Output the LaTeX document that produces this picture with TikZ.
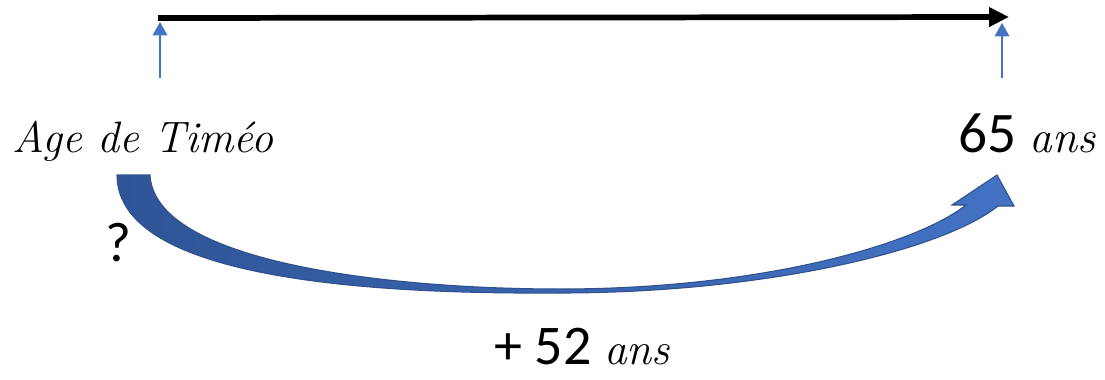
\documentclass[tikz,border=0pt]{standalone}
\usepackage{fontspec}
\newfontfamily\numfont{Carlito}
\usetikzlibrary{arrows.meta}
\definecolor{tailblue}{HTML}{2F5597}
\definecolor{headblue}{HTML}{4472C4}
\definecolor{edgeblue}{HTML}{2F528F}
\tikzset{
  lbl/.style={inner sep=0pt, anchor=base, text=black},
  axisarrow/.style={line width=4.3pt, -{Triangle[length=15pt,width=14pt]}},
  pointer/.style={draw=headblue, line width=1pt, -{Triangle[length=10pt,width=11pt]}},
}
\begin{document}
\begin{tikzpicture}[x=0.75pt,y=-0.75pt]
\useasboundingbox (0,0) rectangle (1105,379);
% axis
\coordinate (axL) at (158,18);
\coordinate (axR) at (1009,17);
\draw[axisarrow] (axL) -- (axR);
% pointers
\coordinate (pL0) at (160,78);
\coordinate (pL1) at (160,22);
\coordinate (pR0) at (1002,78);
\coordinate (pR1) at (1002,23);
\draw[pointer] (pL0) -- (pL1);
\draw[pointer] (pR0) -- (pR1);
% labels
\node[lbl] (age) at (143,152) {\fontsize{33}{38}\selectfont\itshape Age de Timéo};
\node[lbl] (sf) at (1027,152) {\fontsize{43}{48}\selectfont\numfont 65 \rmfamily\itshape\fontsize{34}{40}\selectfont ans};
\node[lbl] (q) at (118,261) {\fontsize{42}{48}\selectfont\numfont ?};
\node[lbl] (plus) at (582,364) {\fontsize{42}{46}\selectfont\numfont + 52 \rmfamily\itshape\fontsize{34}{40}\selectfont ans};
% curved block arrow
\path[draw=edgeblue, line width=0.8pt, line join=miter, shading=axis, left color=tailblue, right color=headblue, shading angle=90]
  (117,175) -- (150,175)
  .. controls (155,265) and (400,289) .. (560,289)
  .. controls (760,289) and (915,245) .. (966,205)
  -- (952,205) -- (997,175) -- (1014,206) -- (998,206)
  .. controls (940,252) and (760,293) .. (560,293)
  .. controls (400,294) and (117,285) .. (117,175) -- cycle;
\end{tikzpicture}
\end{document}
